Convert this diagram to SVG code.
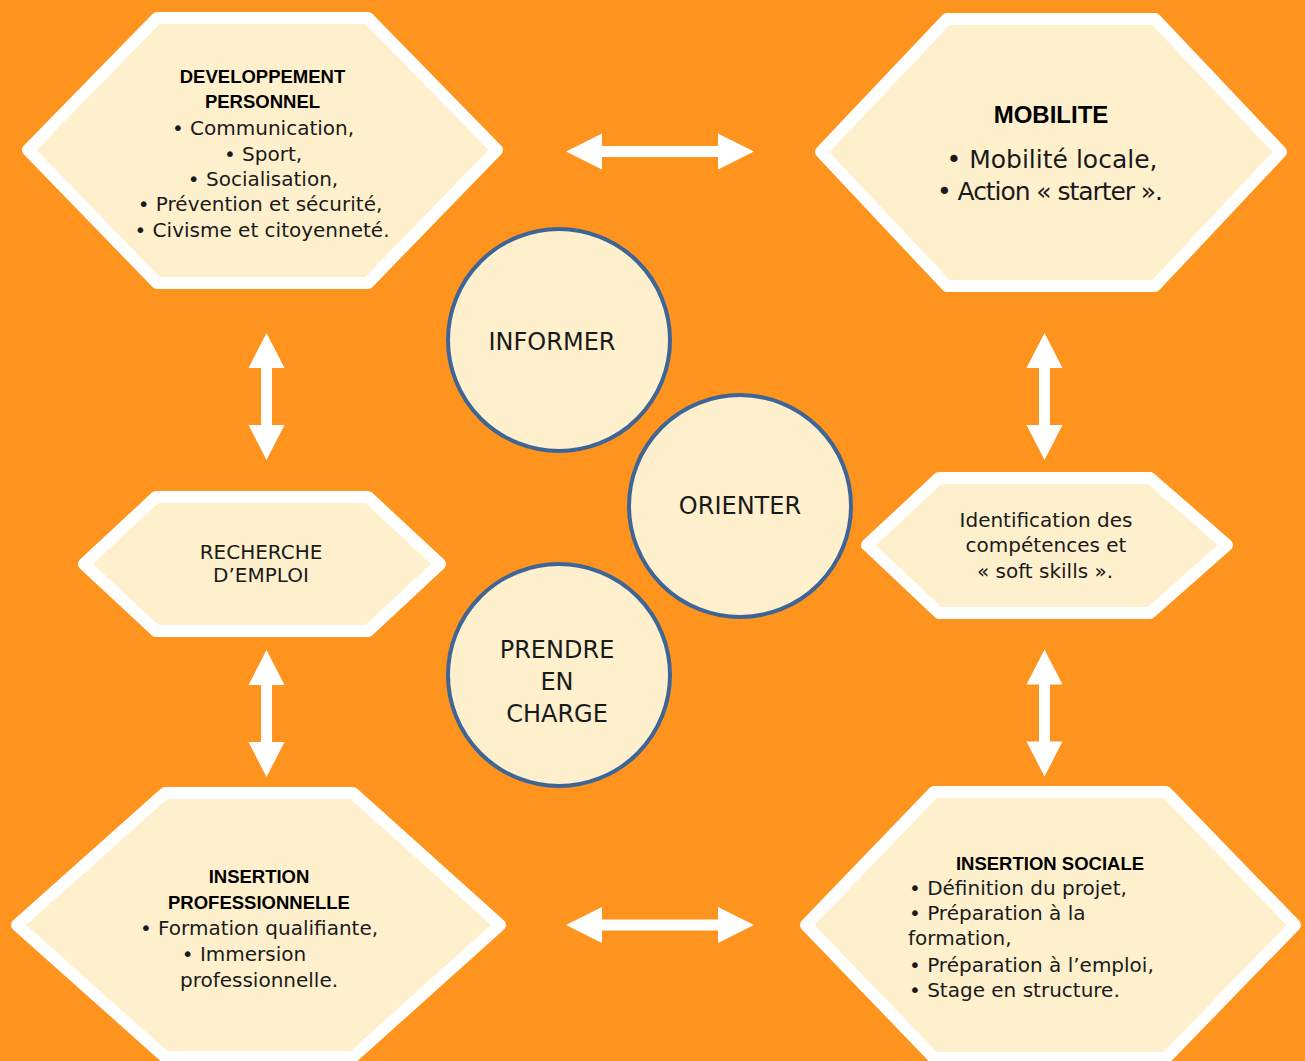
<svg xmlns="http://www.w3.org/2000/svg" width="1305" height="1061" viewBox="0 0 1305 1061">
<style>
.hex{fill:#FFF0CD;stroke:#FFFFFF;stroke-width:12;stroke-linejoin:round}
.circ{fill:#FFF0CD;stroke:#3F6597;stroke-width:4}
.t{font-family:"DejaVu Sans","Liberation Sans",sans-serif;font-size:20px;fill:#1a1a1a;text-anchor:middle}
.b{font-family:"Liberation Sans","DejaVu Sans",sans-serif;font-weight:bold;font-size:18.5px;fill:#000;text-anchor:middle}
.c{font-family:"DejaVu Sans","Liberation Sans",sans-serif;font-size:24px;fill:#1a1a1a;text-anchor:middle}
.l{text-anchor:start}
.arrow{fill:#FFFFFF}
</style>
<defs>
<path id="harrow" d="M-94,0 L-58,-18 L-58,-5.5 L58,-5.5 L58,-18 L94,0 L58,18 L58,5.5 L-58,5.5 L-58,18 Z"/>
<path id="varrow" d="M0,-63.5 L18,-28.5 L5.5,-28.5 L5.5,28.5 L18,28.5 L0,63.5 L-18,28.5 L-5.5,28.5 L-5.5,-28.5 L-18,-28.5 Z"/>
</defs>
<rect x="0" y="0" width="1305" height="1061" fill="#FE931E"/>

<g id="connectors" class="arrow">
<use href="#harrow" x="660" y="151.5"/>
<use href="#harrow" x="660" y="925"/>
<use href="#varrow" x="266.5" y="396.5"/>
<use href="#varrow" x="266.5" y="713.5"/>
<use href="#varrow" x="1044.5" y="396.5"/>
<use href="#varrow" x="1044.5" y="713"/>
</g>

<g id="developpement-personnel">
<polygon class="hex" points="157,18 368,18 497,150 368,283 157,283 28,150"/>
<text class="b" x="262.5" y="83">DEVELOPPEMENT</text>
<text class="b" x="262.5" y="108">PERSONNEL</text>
<text class="t" x="263" y="135">• Communication,</text>
<text class="t" x="263" y="161">• Sport,</text>
<text class="t" x="263" y="186">• Socialisation,</text>
<text class="t" x="260" y="211">• Prévention et sécurité,</text>
<text class="t" x="262" y="237">• Civisme et citoyenneté.</text>
</g>

<g id="mobilite">
<polygon class="hex" points="947,19 1155,19 1281,152 1155,286 947,286 821,152"/>
<text class="b" x="1051" y="123" style="font-size:24px">MOBILITE</text>
<text class="t" x="1052" y="168" style="font-size:25px">• Mobilité locale,</text>
<text class="t" x="1050" y="200" style="font-size:25px" textLength="226" lengthAdjust="spacing">• Action « starter ».</text>
</g>

<g id="recherche-emploi">
<polygon class="hex" points="156,497 368,497 440,564 368,631 156,631 84,564"/>
<text class="t" x="261" y="559">RECHERCHE</text>
<text class="t" x="261" y="582">D’EMPLOI</text>
</g>

<g id="identification">
<polygon class="hex" points="939,478 1150,478 1227,545 1150,613 939,613 867,545"/>
<text class="t" x="1046" y="527">Identification des</text>
<text class="t" x="1046" y="552">compétences et</text>
<text class="t" x="1045" y="578">« soft skills ».</text>
</g>

<g id="insertion-professionnelle">
<polygon class="hex" points="165,793 353,793 500,925 353,1057 165,1057 17,925"/>
<text class="b" x="259" y="883">INSERTION</text>
<text class="b" x="259" y="909">PROFESSIONNELLE</text>
<text class="t" x="259" y="935">• Formation qualifiante,</text>
<text class="t" x="244" y="961">•  Immersion</text>
<text class="t" x="259" y="987">professionnelle.</text>
</g>

<g id="insertion-sociale">
<polygon class="hex" points="934,792 1166,792 1295,925 1166,1058 934,1058 806,925"/>
<text class="b" x="1050" y="870">INSERTION SOCIALE</text>
<text class="t l" x="909" y="895">• Définition du projet,</text>
<text class="t l" x="909" y="920">• Préparation à la</text>
<text class="t l" x="908" y="945">formation,</text>
<text class="t l" x="909" y="972">• Préparation à l’emploi,</text>
<text class="t l" x="909" y="997">• Stage en structure.</text>
</g>

<g id="informer">
<circle class="circ" cx="559" cy="340" r="111"/>
<text class="c" x="552" y="350">INFORMER</text>
</g>

<g id="orienter">
<circle class="circ" cx="740" cy="506" r="111"/>
<text class="c" x="740" y="514">ORIENTER</text>
</g>

<g id="prendre-en-charge">
<circle class="circ" cx="559" cy="675" r="111"/>
<text class="c" x="557" y="658">PRENDRE</text>
<text class="c" x="557" y="690">EN</text>
<text class="c" x="557" y="722">CHARGE</text>
</g>
</svg>
